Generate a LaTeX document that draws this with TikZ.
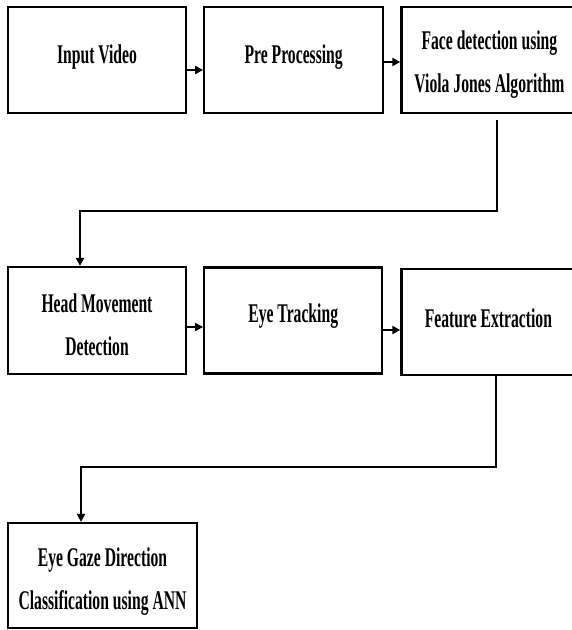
\documentclass[tikz,border=0pt]{standalone}
\usepackage{fontspec}
\newfontfamily\diagfont{Liberation Serif}[FakeStretch=0.58]
\usetikzlibrary{arrows.meta, positioning, calc}

\begin{document}
\begin{tikzpicture}[x=1pt, y=-1pt,
    stage/.style={rectangle, draw, line width=2.2pt, inner sep=0pt, minimum width=178pt, minimum height=106pt},
    caption/.style={font=\diagfont\bfseries\fontsize{27}{43}\selectfont, align=center, inner sep=0pt},
    flow/.style={-{Triangle[length=8pt,width=8pt]}, line width=2pt}
]
    \useasboundingbox (0,0) rectangle (572,630);
    % first row
    \node [stage] (input) at (97,60) {};
    \node [stage, right=16pt of input, minimum width=179pt] (pre) {};
    \node [stage, right=16pt of pre, minimum width=176pt] (face) {};
    % second row
    \node [stage, minimum height=107pt] (head) at (97,320.5) {};
    \node [stage, right=16pt of head] (eye) {};
    \node [stage, right=17pt of eye, minimum width=174pt, yshift=-1.5pt] (feat) {};
    % last box
    \node [stage, minimum width=189pt, minimum height=105pt] (gaze) at (102.5,575.5) {};

    % texts
    \node [caption, yshift=3pt] (inputtxt) at (input) {Input Video};
    \node [caption, yshift=3pt] (pretxt) at (pre) {Pre Processing};
    \node [caption, yshift=-5pt] (facetxt) at (face) {Face detection using\\Viola Jones Algorithm};
    \node [caption, yshift=-4pt] (headtxt) at (head) {Head Movement\\Detection};
    \node [caption, yshift=4pt] (eyetxt) at (eye) {Eye Tracking};
    \node [caption, yshift=4pt] (feattxt) at (feat) {Feature Extraction};
    \node [caption, yshift=-6pt] (gazetxt) at (gaze) {Eye Gaze Direction\\Classification using ANN};

    \draw [flow] ([yshift=-10pt]input.east) -- ([yshift=-10pt]pre.west);
    \draw [flow] ([yshift=-2pt]pre.east) -- ([yshift=-2pt]face.west);
    \draw [flow] ([yshift=-6.5pt]head.east) -- ([yshift=-6.5pt]eye.west);
    \draw [flow] ([yshift=-9.5pt]eye.east) -- ([yshift=-9.5pt]eye.east -| feat.west);

    \coordinate (turn1) at (80,211);
    \coordinate (turn2) at (81,467);
    \draw [flow] ([xshift=7.5pt, yshift=-6pt]face.south) |- (turn1) -- (turn1 |- head.north);
    \draw [flow] ([xshift=8pt]feat.south) |- (turn2) -- (turn2 |- gaze.north);
\end{tikzpicture}
\end{document}
